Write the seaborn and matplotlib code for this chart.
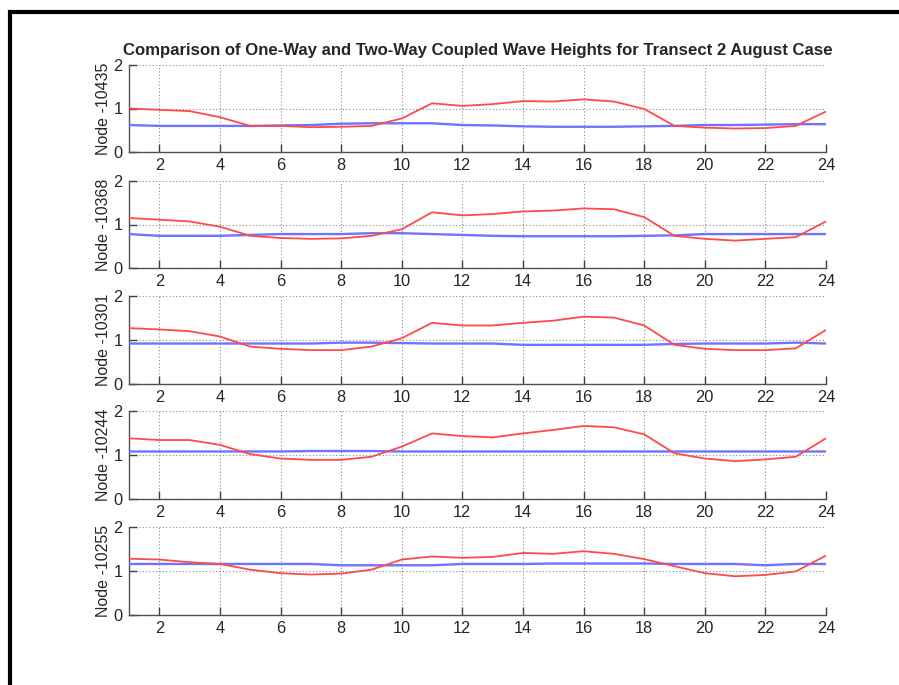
import numpy as np
import pandas as pd
import matplotlib
matplotlib.use("Agg")
import matplotlib.pyplot as plt
from matplotlib.lines import Line2D
import seaborn as sns

# Hourly wave heights (m) at five nodes along transect 2
hours = list(range(1, 25))
node_ids = ["10435", "10368", "10301", "10244", "10255"]

two_way_10435 = [1.00, 0.97, 0.94, 0.80, 0.60, 0.60, 0.57, 0.58, 0.60, 0.77, 1.12, 1.06,
                 1.10, 1.17, 1.16, 1.21, 1.16, 0.99, 0.60, 0.56, 0.54, 0.55, 0.60, 0.93]
one_way_10435 = [0.62, 0.60, 0.60, 0.60, 0.60, 0.61, 0.62, 0.65, 0.66, 0.66, 0.66, 0.62,
                 0.61, 0.59, 0.58, 0.58, 0.58, 0.59, 0.60, 0.62, 0.62, 0.63, 0.64, 0.64]

two_way_10368 = [1.15, 1.11, 1.07, 0.95, 0.74, 0.69, 0.67, 0.68, 0.74, 0.89, 1.28, 1.21,
                 1.24, 1.30, 1.32, 1.37, 1.35, 1.17, 0.74, 0.67, 0.63, 0.67, 0.71, 1.07]
one_way_10368 = [0.78, 0.74, 0.74, 0.74, 0.76, 0.78, 0.78, 0.78, 0.80, 0.80, 0.78, 0.76,
                 0.74, 0.73, 0.73, 0.73, 0.73, 0.74, 0.75, 0.78, 0.78, 0.78, 0.78, 0.78]

two_way_10301 = [1.27, 1.24, 1.20, 1.08, 0.85, 0.80, 0.77, 0.77, 0.85, 1.04, 1.39, 1.33,
                 1.33, 1.39, 1.44, 1.53, 1.51, 1.33, 0.89, 0.80, 0.77, 0.77, 0.81, 1.23]
one_way_10301 = [0.92, 0.92, 0.92, 0.92, 0.92, 0.92, 0.92, 0.94, 0.94, 0.93, 0.92, 0.92,
                 0.92, 0.89, 0.89, 0.89, 0.89, 0.89, 0.91, 0.92, 0.92, 0.92, 0.94, 0.92]

two_way_10244 = [1.38, 1.34, 1.34, 1.23, 1.02, 0.92, 0.89, 0.89, 0.96, 1.19, 1.49, 1.43,
                 1.40, 1.49, 1.57, 1.66, 1.63, 1.47, 1.04, 0.92, 0.86, 0.90, 0.96, 1.38]
one_way_10244 = [1.08, 1.08, 1.08, 1.08, 1.08, 1.08, 1.09, 1.09, 1.09, 1.08, 1.08, 1.08,
                 1.08, 1.08, 1.08, 1.08, 1.08, 1.08, 1.08, 1.08, 1.08, 1.08, 1.08, 1.08]

two_way_10255 = [1.28, 1.26, 1.20, 1.16, 1.03, 0.95, 0.92, 0.94, 1.03, 1.26, 1.33, 1.30,
                 1.32, 1.41, 1.39, 1.45, 1.39, 1.27, 1.11, 0.95, 0.88, 0.91, 0.99, 1.35]
one_way_10255 = [1.16, 1.16, 1.16, 1.16, 1.16, 1.16, 1.16, 1.13, 1.13, 1.13, 1.13, 1.16,
                 1.16, 1.16, 1.17, 1.17, 1.17, 1.17, 1.16, 1.16, 1.16, 1.13, 1.16, 1.16]

two_way = [two_way_10435, two_way_10368, two_way_10301, two_way_10244, two_way_10255]
one_way = [one_way_10435, one_way_10368, one_way_10301, one_way_10244, one_way_10255]

x_ticks = list(range(2, 25, 2))
y_ticks = [0, 1, 2]
title = "Comparison of One-Way and Two-Way Coupled Wave Heights for Transect 2 August Case"

sns.set_style("ticks")
plt.rcParams["font.family"] = ["Liberation Sans", "DejaVu Sans"]

W, H = 899, 685
fig = plt.figure(figsize=(W / 100, H / 100), dpi=100)

left_px, right_px = 129, 826
tops_px = [65, 181, 296, 411, 527]
bottoms_px = [152, 268, 384, 499, 615]

palette = {"one_way": "#7272ff", "two_way": "#ff4a4a"}
widths = {"one_way": 1.7, "two_way": 1.3}

for i, node in enumerate(node_ids):
    t, b = tops_px[i], bottoms_px[i]
    ax = fig.add_axes([left_px / W, 1 - b / H, (right_px - left_px) / W, (b - t) / H])

    df = pd.DataFrame({
        "hour": hours * 2,
        "height": one_way[i] + two_way[i],
        "series": ["one_way"] * len(hours) + ["two_way"] * len(hours),
    })
    for name in ["one_way", "two_way"]:
        sns.lineplot(data=df[df["series"] == name], x="hour", y="height",
                     color=palette[name], lw=widths[name], ax=ax,
                     legend=False, sort=False, zorder=3)

    ax.set_xlim(1, 24)
    ax.set_ylim(0, 2)
    ax.set_xticks(x_ticks)
    ax.set_yticks(y_ticks)
    ax.set_xlabel("")
    ax.set_ylabel(f"Node -{node}", fontsize=11.5, labelpad=2)
    ax.grid(True, linestyle=(0, (1, 2)), color="#8c8c8c", lw=0.8)
    ax.set_axisbelow(True)
    ax.tick_params(direction="in", length=5.5, width=1, color="#404040",
                   labelsize=11.8, pad=4.5, top=False, right=False)
    for side in ["top", "right"]:
        ax.spines[side].set_visible(False)
    for side in ["left", "bottom"]:
        ax.spines[side].set_color("#505050")
        ax.spines[side].set_linewidth(1.0)

    if i == 0:
        ax.set_title(title, fontsize=12.1, fontweight="bold", pad=7)

# Heavy frame along the top and left edges of the figure
fig.add_artist(Line2D([8 / W, 1.0], [1 - 12 / H, 1 - 12 / H], transform=fig.transFigure,
                      color="black", lw=3.0, solid_capstyle="butt"))
fig.add_artist(Line2D([10 / W, 10 / W], [1 - 10 / H, 0.0], transform=fig.transFigure,
                      color="black", lw=3.0, solid_capstyle="butt"))

fig.savefig("out.png", dpi=100)
